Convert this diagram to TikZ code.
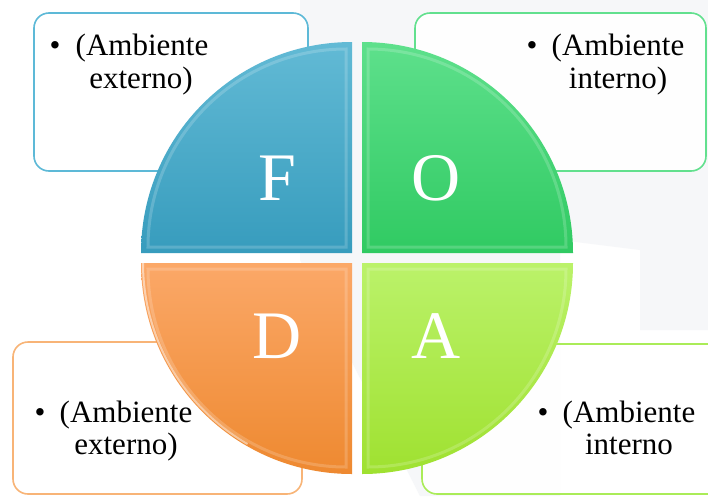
\documentclass[tikz,border=0pt]{standalone}
\usepackage{fontspec}
\setmainfont{Liberation Serif}
\definecolor{fTop}{HTML}{62BAD5}
\definecolor{fBot}{HTML}{379CBD}
\definecolor{oTop}{HTML}{5EE08C}
\definecolor{oBot}{HTML}{30CA62}
\definecolor{dTop}{HTML}{FBA868}
\definecolor{dBot}{HTML}{EE8930}
\definecolor{aTop}{HTML}{BBF26A}
\definecolor{aBot}{HTML}{9FE130}
\definecolor{fLine}{HTML}{5DB9D7}
\definecolor{oLine}{HTML}{62E08E}
\definecolor{dLine}{HTML}{F8B477}
\definecolor{aLine}{HTML}{AAEC58}
\definecolor{wm}{HTML}{F6F7F9}
\begin{document}
\begin{tikzpicture}[x=1pt,y=-1pt,
  box/.style={line width=1.6pt, rounded corners=15pt, fill=white, fill opacity=0.92},
  txt/.style={font=\fontsize{31}{33}\selectfont, anchor=base, inner sep=0pt},
  big/.style={font=\fontsize{68}{70}\selectfont, text=white, anchor=base, inner sep=0pt},
  bevel/.style={draw=white, draw opacity=0.18, line width=3pt}]
\path[use as bounding box] (0,0) rectangle (708,496);
\clip (0,0) rectangle (708,496);
\fill[white] (0,0) rectangle (708,496);
% faint watermark
\fill[wm] (300,0) -- (708,0) -- (708,330) -- (640,330) -- (640,250) -- (560,240) -- (560,496) -- (420,496) -- (300,260) -- cycle;
% boxes
\draw[box, draw=fLine] (34,13) rectangle (308,171);
\draw[box, draw=oLine] (415,13) rectangle (706,171);
\draw[box, draw=dLine] (13,342) rectangle (302,494);
\draw[box, draw=aLine] (422,344) rectangle (740,494);
% quadrants
\shade[top color=fTop, bottom color=fBot] (352,253) -- (141,253) arc[start angle=180,end angle=270,radius=211] -- cycle;
\shade[top color=oTop, bottom color=oBot] (362,253) -- (573,253) arc[start angle=0,end angle=-90,radius=211] -- cycle;
\shade[top color=dTop, bottom color=dBot] (352,263) -- (141,263) arc[start angle=180,end angle=90,radius=211] -- cycle;
\shade[top color=aTop, bottom color=aBot] (362,263) -- (573,263) arc[start angle=0,end angle=90,radius=211] -- cycle;
% bevels
\path[bevel] (346,247) -- (148,247) arc[start angle=180,end angle=270,radius=198] -- cycle;
\path[bevel] (368,247) -- (566,247) arc[start angle=0,end angle=-90,radius=198] -- cycle;
\path[bevel] (346,269) -- (148,269) arc[start angle=180,end angle=90,radius=198] -- cycle;
\path[bevel] (368,269) -- (566,269) arc[start angle=0,end angle=90,radius=198] -- cycle;
\draw[white, opacity=0.5, line width=2pt] (143,263) arc[start angle=180,end angle=120,radius=209];
% letters
\node[big] (F) at (277,200) {F};
\node[big] (O) at (436,200) {O};
\node[big] (D) at (277,358) {D};
\node[big] (A) at (436,358) {A};
% texts
\node[txt] (b1) at (55,55) {•};
\node[txt] (t1a) at (142,55) {(Ambiente};
\node[txt] (t1b) at (141,88) {externo)};
\node[txt] (b2) at (532,55) {•};
\node[txt] (t2a) at (618,55) {(Ambiente};
\node[txt] (t2b) at (618,88) {interno)};
\node[txt] (b3) at (40,422) {•};
\node[txt] (t3a) at (126,422) {(Ambiente};
\node[txt] (t3b) at (126,454) {externo)};
\node[txt] (b4) at (543,422) {•};
\node[txt] (t4a) at (629,422) {(Ambiente};
\node[txt] (t4b) at (629,454) {interno};
\end{tikzpicture}
\end{document}
